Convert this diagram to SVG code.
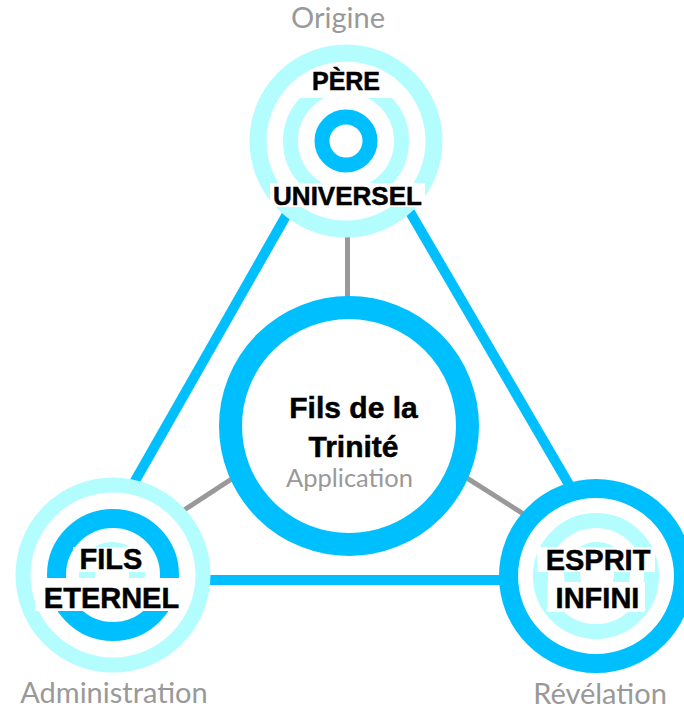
<svg xmlns="http://www.w3.org/2000/svg" width="684" height="710" viewBox="0 0 684 710">
<style>
.bg{fill:#ffffff}
.blue{fill:none;stroke:#00bfff}
.light{fill:none;stroke:#b3fdff}
.lbl{font-family:"Liberation Sans",Arial,sans-serif;font-weight:bold;fill:#000;stroke:#000;stroke-width:0.5;text-anchor:middle}
.sub{font-family:Lato,"Open Sans",sans-serif;fill:#999999;text-anchor:middle;font-size:29px}
.edge{stroke:#00bfff;stroke-width:10;fill:none}
.link{stroke:#999999;stroke-width:5;fill:none}
</style>
<rect width="684" height="710" fill="#ffffff"/>
<g id="connectors">
  <line class="edge" x1="295" y1="200" x2="127" y2="495"/>
  <line class="edge" x1="403" y1="200" x2="578" y2="500"/>
  <line class="edge" x1="200" y1="580" x2="510" y2="580"/>
  <line class="link" x1="347.5" y1="225" x2="347.5" y2="305"/>
  <line class="link" x1="175" y1="516" x2="240" y2="473.5"/>
  <line class="link" x1="460" y1="473.6" x2="532" y2="519.4"/>
</g>
<g id="node-center">
  <circle cx="349" cy="426" r="118.5" fill="#ffffff" stroke="#00bfff" stroke-width="23"/>
  <text class="lbl" x="353.5" y="418" font-size="30">Fils de la</text>
  <text class="lbl" x="353.5" y="457" font-size="30">Trinité</text>
  <text class="sub" x="349.5" y="487" font-size="25.5" style="font-size:25.5px">Application</text>
</g>
<g id="node-pere">
  <circle cx="346" cy="141" r="88" class="light" stroke-width="17" style="fill:#ffffff"/>
  <circle cx="346" cy="141" r="55.5" class="light" stroke-width="15"/>
  <circle cx="346" cy="141" r="24" class="blue" stroke-width="15"/>
  <rect class="bg" x="297" y="77" width="98" height="21"/>
  <rect class="bg" x="270" y="183" width="155" height="24"/>
  <text class="lbl" x="346" y="89.5" font-size="25">PÈRE</text>
  <text class="lbl" x="347.5" y="205" font-size="26">UNIVERSEL</text>
  <text class="sub" x="338" y="28">Origine</text>
</g>
<g id="node-fils">
  <circle cx="113" cy="575" r="90" class="light" stroke-width="15" style="fill:#ffffff"/>
  <circle cx="113" cy="575" r="56.5" class="blue" stroke-width="19"/>
  <circle cx="112" cy="575" r="25" class="light" stroke-width="16"/>
  <rect class="bg" x="73" y="547" width="75" height="25"/>
  <rect class="bg" x="35" y="578" width="148" height="33"/>
  <text class="lbl" x="111" y="568.5" font-size="29">FILS</text>
  <text class="lbl" x="111.5" y="608" font-size="29">ETERNEL</text>
  <text class="sub" x="114" y="703">Administration</text>
</g>
<g id="node-esprit">
  <circle cx="596" cy="576" r="87.5" class="blue" stroke-width="19" style="fill:#ffffff"/>
  <circle cx="596" cy="576" r="55.5" class="light" stroke-width="15"/>
  <circle cx="597" cy="575" r="25" class="light" stroke-width="16"/>
  <rect class="bg" x="537" y="547" width="118" height="25"/>
  <rect class="bg" x="547" y="582" width="98" height="30"/>
  <text class="lbl" x="598" y="570" font-size="29">ESPRIT</text>
  <text class="lbl" x="597.5" y="608" font-size="29">INFINI</text>
  <text class="sub" x="600" y="704">Révélation</text>
</g>
</svg>
